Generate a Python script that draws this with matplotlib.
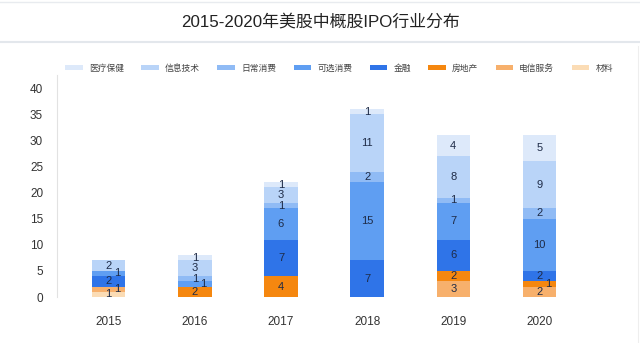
import numpy as np
import matplotlib
matplotlib.use('Agg')
import matplotlib.pyplot as plt
from matplotlib.lines import Line2D

plt.rcParams['font.family'] = ['Liberation Sans', 'Noto Sans CJK SC', 'DejaVu Sans']

years = ['2015', '2016', '2017', '2018', '2019', '2020']
# 从下往上堆叠
sectors = ['材料', '电信服务', '房地产', '金融', '可选消费', '日常消费', '信息技术', '医疗保健']
cailiao   = [1, 0, 0, 0, 0, 0]
dianxin   = [1, 0, 0, 0, 3, 2]
fangdichan = [0, 2, 4, 0, 2, 1]
jinrong   = [2, 0, 7, 7, 6, 2]
kexuan    = [1, 1, 6, 15, 7, 10]
richang   = [0, 1, 1, 2, 1, 2]
xinxi     = [2, 3, 3, 11, 8, 9]
yiliao    = [0, 1, 1, 1, 4, 5]
values = [cailiao, dianxin, fangdichan, jinrong, kexuan, richang, xinxi, yiliao]
colors = ['#fbdcb5', '#f7b06c', '#f5870f', '#2f74e8',
          '#5f9ef2', '#90bbf5', '#b9d4f8', '#dde9fa']

fig = plt.figure(figsize=(6.4, 3.43), dpi=100)
ax = fig.add_axes([57 / 640, 46 / 343, 560 / 640, 222 / 343])

x = np.arange(len(years))
bottom = np.zeros(len(years))
prev_val = [None] * len(years)
prev_shift = [False] * len(years)
for name, vals, c in zip(sectors, values, colors):
    vals = np.array(vals, dtype=float)
    ax.bar(x, vals, width=0.39, bottom=bottom, color=c, label=name, linewidth=0)
    for i, v in enumerate(vals):
        if v <= 0:
            continue
        # 小块标签挤在一起时往右挪一点
        shift = v == 1 and prev_val[i] is not None and prev_val[i] <= 2 and not prev_shift[i]
        xi = x[i] + (0.1 if shift else 0)
        ax.text(xi, bottom[i] + v / 2, str(int(v)), ha='center', va='center',
                fontsize=8, color='#1e2b47')
        prev_val[i] = v
        prev_shift[i] = shift
    bottom += vals

ax.set_xlim(-0.6, 5.9)
ax.set_ylim(0, 42.5)
ax.set_yticks(range(0, 41, 5))
ax.set_xticks(x)
ax.set_xticklabels(years)
ax.tick_params(axis='both', length=0, labelsize=8.5, labelcolor='#333333')
ax.tick_params(axis='y', pad=10)
ax.tick_params(axis='x', pad=14)
for s in ['top', 'right', 'bottom']:
    ax.spines[s].set_visible(False)
ax.spines['left'].set_color('#e2e2e2')
ax.spines['left'].set_linewidth(0.8)

handles, labels = ax.get_legend_handles_labels()
fig.legend(handles[::-1], labels[::-1], ncol=8, loc='center',
           bbox_to_anchor=(339 / 640, 1 - 68 / 343), frameon=False, fontsize=6.3,
           handlelength=2.0, handleheight=0.6, columnspacing=2.0,
           handletextpad=0.7, labelcolor='#444444')

fig.text(0.5, 1 - 22 / 343, '2015-2020年美股中概股IPO行业分布', ha='center', va='center',
         fontsize=12.2, color='#222222')
fig.add_artist(Line2D([0, 1], [1 - 42 / 343] * 2, color='#e3e7ec', lw=1.5))
fig.add_artist(Line2D([0, 1], [1 - 1.5 / 343] * 2, color='#e8ebef', lw=1.0))
fig.add_artist(Line2D([638 / 640] * 2, [0, 1 - 46 / 343], color='#eeeeee', lw=0.8))

plt.savefig('out.png', dpi=100)
